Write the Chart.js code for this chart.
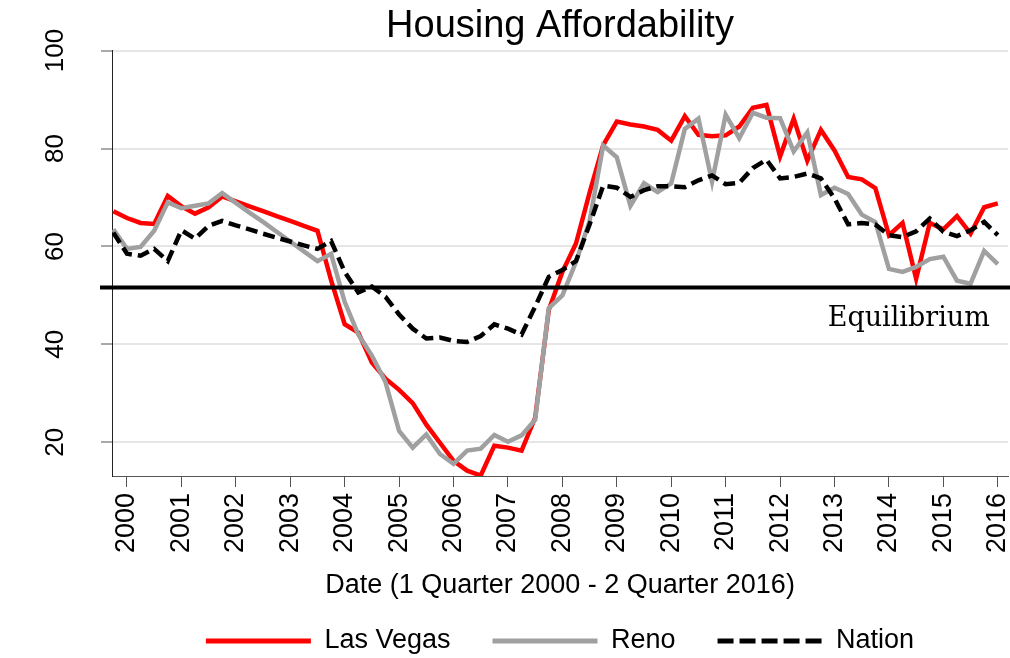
<!DOCTYPE html>
<html>
<head>
<meta charset="utf-8">
<script src="https://cdn.jsdelivr.net/npm/chart.js@4/dist/chart.umd.min.js"></script>
<style>
  html, body { margin: 0; padding: 0; background: #fff; }
</style>
</head>
<body>
<canvas id="chart" width="1010" height="658"></canvas>
<script>
// quarterly series, 1Q2000 .. 2Q2016
const years = ['2000', '2001', '2002', '2003', '2004', '2005', '2006', '2007', '2008',
  '2009', '2010', '2011', '2012', '2013', '2014', '2015', '2016'];
const quarters = [];
years.forEach(y => ['Q1', 'Q2', 'Q3', 'Q4'].forEach(q => {
  if (!(y === '2016' && (q === 'Q3' || q === 'Q4'))) quarters.push(y + q);
}));

const lasVegas = [
  67.2, 65.8, 64.8, 64.6, 70.3, 68.2, 66.7, 68.0, 70.2, 69.2, 68.2, 67.2, 66.2, 65.2, 64.2, 63.2,
  53.1, 44.1, 42.4, 36.3, 33.0, 30.7, 28.0, 23.6, 19.9, 16.2, 14.2, 13.2, 19.3, 18.9, 18.3, 25.0,
  47.0, 54.8, 60.6, 71.0, 80.7, 85.5, 84.9, 84.5, 83.8, 81.6, 86.6, 82.8, 82.5, 82.7, 84.5, 88.3,
  88.9, 78.4, 86.1, 77.5, 83.8, 79.6, 74.2, 73.7, 71.9, 62.3, 64.8, 53.4, 64.8, 63.5, 66.2, 62.6,
  68.0, 68.8
];
const reno = [
  63.5, 59.5, 59.9, 63.2, 69.0, 67.8, 68.3, 68.8, 70.9, 68.9, 66.9, 65.0, 63.0, 61.0, 59.0, 57.0,
  58.5, 48.7, 42.0, 37.7, 32.3, 22.3, 18.9, 21.6, 17.6, 15.6, 18.3, 18.7, 21.5, 20.1, 21.4, 24.6,
  47.4, 50.0, 56.8, 65.2, 80.6, 78.2, 68.3, 72.9, 71.1, 72.9, 84.0, 86.1, 73.2, 86.9, 82.1, 87.3,
  86.3, 86.2, 79.4, 83.3, 70.5, 72.0, 70.7, 66.5, 65.0, 55.4, 54.8, 55.8, 57.4, 57.9, 53.0, 52.4,
  59.1, 56.4
];
const nation = [
  62.8, 58.5, 58.1, 59.5, 57.0, 63.3, 61.6, 64.2, 65.2, 64.3, 63.5, 62.6, 61.8, 61.0, 60.2, 59.5,
  61.1, 54.8, 50.6, 51.8, 49.7, 46.1, 43.2, 41.2, 41.4, 40.7, 40.5, 41.7, 44.1, 43.2, 42.0, 47.7,
  53.8, 55.2, 57.0, 64.5, 72.4, 72.0, 70.1, 71.5, 72.3, 72.3, 72.1, 73.5, 74.5, 72.7, 73.0, 76.0,
  77.7, 73.9, 74.2, 74.9, 73.9, 69.8, 64.5, 64.8, 64.5, 62.3, 61.9, 63.1, 65.7, 63.0, 62.1, 63.3,
  65.0, 62.3
];
const yTicks = [20, 40, 60, 80, 100];
const equilibrium = 51.6;
const equilibriumLabel = 'Equilibrium';

const toPoints = arr => arr.map((v, i) => ({ x: i, y: v }));

Chart.defaults.font.family = "'Liberation Sans', Arial, sans-serif";
Chart.defaults.color = '#000';

const equilibriumLine = {
  id: 'equilibriumLine',
  afterDatasetsDraw(chart, args, opts) {
    const { ctx, chartArea, scales: { x, y } } = chart;
    const py = y.getPixelForValue(equilibrium);
    ctx.save();
    ctx.strokeStyle = '#000';
    ctx.lineWidth = 4;
    ctx.beginPath();
    ctx.moveTo(chartArea.left - 12, py);
    ctx.lineTo(chart.width, py);
    ctx.stroke();
    ctx.font = "27px 'DejaVu Serif'";
    ctx.fillStyle = '#000';
    ctx.textAlign = 'left';
    ctx.textBaseline = 'alphabetic';
    ctx.fillText(equilibriumLabel, x.getPixelForValue(opts.labelX), y.getPixelForValue(opts.labelY));
    ctx.restore();
  }
};

new Chart(document.getElementById('chart'), {
  type: 'line',
  data: {
    datasets: [
      { label: 'Las Vegas', data: toPoints(lasVegas), borderColor: '#ff0000', borderWidth: 4.5, order: 3 },
      { label: 'Reno', data: toPoints(reno), borderColor: '#a0a0a0', borderWidth: 4.5, order: 2 },
      { label: 'Nation', data: toPoints(nation), borderColor: '#000', borderWidth: 4.5, borderDash: [12, 6], order: 1 }
    ]
  },
  options: {
    responsive: false,
    animation: false,
    devicePixelRatio: 1,
    layout: { padding: { left: 0, right: 2, top: 0, bottom: 0 } },
    elements: {
      point: { radius: 0 },
      line: { tension: 0, fill: false }
    },
    scales: {
      x: {
        type: 'linear',
        min: -0.1,
        max: 65.75,
        afterBuildTicks: s => { s.ticks = years.map(y => ({ value: quarters.indexOf(y + 'Q2') })); },
        afterFit: s => { s.paddingLeft = 0; s.paddingRight = 0; },
        ticks: {
          autoSkip: false,
          minRotation: 90,
          maxRotation: 90,
          padding: 6,
          font: { size: 27 },
          color: '#000',
          callback: v => quarters[v].slice(0, 4)
        },
        grid: { drawOnChartArea: false, tickLength: 11, tickColor: '#555', tickWidth: 1 },
        border: { display: true, color: '#555', width: 1 },
        title: {
          display: true,
          text: 'Date (1 Quarter 2000 - 2 Quarter 2016)',
          font: { size: 27 },
          color: '#000',
          padding: { top: 10, bottom: -16 }
        }
      },
      y: {
        min: 13.1,
        max: 100,
        afterBuildTicks: s => { s.ticks = yTicks.map(v => ({ value: v })); },
        afterFit: s => { s.width = 112; s.paddingTop = 0; s.paddingBottom = 0; },
        ticks: {
          minRotation: 90,
          maxRotation: 90,
          crossAlign: 'center',
          padding: 23,
          font: { size: 26 },
          color: '#000'
        },
        grid: { color: '#e6e6e6', lineWidth: 2, tickLength: 11, tickColor: '#555', tickWidth: 1 },
        border: { display: true, color: '#222', width: 1 }
      }
    },
    plugins: {
      title: {
        display: true,
        text: 'Housing Affordability',
        font: { size: 38, weight: 'normal' },
        color: '#000',
        fullSize: false,
        padding: { top: 4, bottom: 1 }
      },
      legend: {
        position: 'bottom',
        fullSize: false,
        maxHeight: 72.5,
        labels: {
          usePointStyle: true,
          pointStyle: 'line',
          pointStyleWidth: 105,
          padding: 42,
          font: { size: 27 },
          color: '#000',
          sort: (a, b) => a.datasetIndex - b.datasetIndex,
          generateLabels: chart => Chart.defaults.plugins.legend.labels.generateLabels(chart).map(item => {
            const ds = chart.data.datasets[item.datasetIndex];
            return Object.assign(item, {
              lineWidth: 5,
              lineDash: ds.borderDash ? [16, 6] : [],
              strokeStyle: ds.borderColor
            });
          })
        }
      },
      tooltip: { enabled: false },
      equilibriumLine: { labelX: 52.5, labelY: 43.7 }
    }
  },
  plugins: [equilibriumLine]
});
</script>
</body>
</html>
